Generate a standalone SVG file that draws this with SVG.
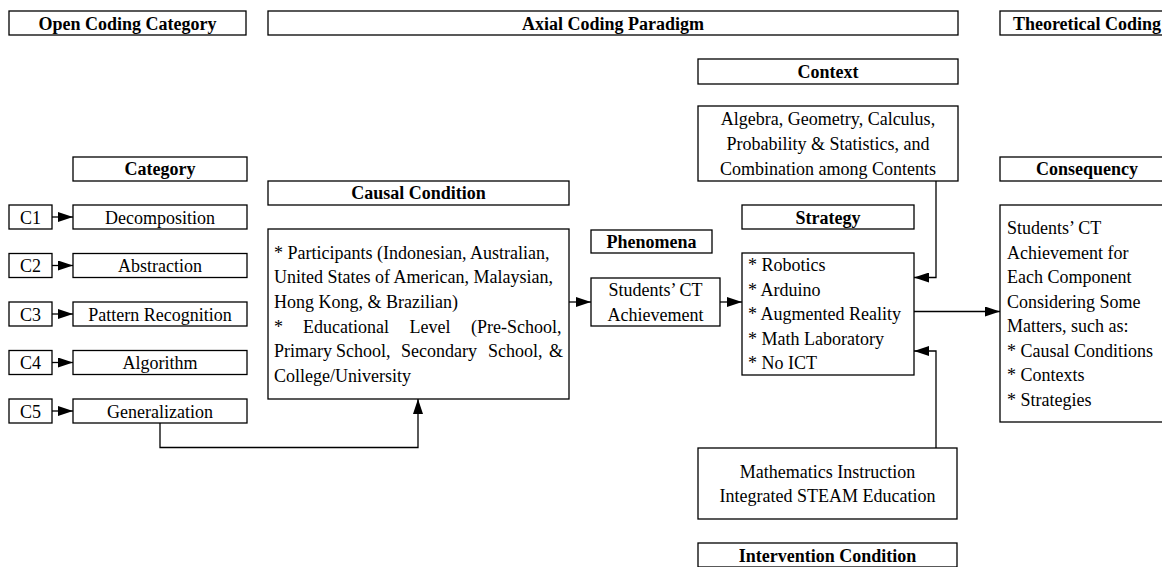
<svg xmlns="http://www.w3.org/2000/svg" width="1162" height="567" viewBox="0 0 1162 567">
  <defs>
    <style>
      .box { fill: #ffffff; stroke: #000000; stroke-width: 1.3; }
      .wire { fill: none; stroke: #000000; stroke-width: 1.3; }
      text { font-family: "Liberation Serif", "Times New Roman", serif; font-size: 18px; fill: #000000; }
      .head { font-weight: bold; text-anchor: middle; }
      .mid { text-anchor: middle; }
    </style>
    <marker id="arrow" markerUnits="userSpaceOnUse" markerWidth="15" markerHeight="10" refX="15" refY="5" orient="auto">
      <path d="M0,0 L15,5 L0,10 z" fill="#000000"/>
    </marker>
  </defs>

  <rect width="1162" height="567" fill="#ffffff"/>

  <!-- column titles -->
  <g id="title-open">
    <rect class="box" x="9" y="11" width="237" height="24"/>
    <text class="head" x="127.5" y="29.5">Open Coding Category</text>
  </g>
  <g id="title-axial">
    <rect class="box" x="268" y="11" width="690" height="24"/>
    <text class="head" x="613" y="29.5">Axial Coding Paradigm</text>
  </g>
  <g id="title-theoretical">
    <rect class="box" x="1000" y="11" width="174" height="24"/>
    <text class="head" x="1087" y="29.5">Theoretical Coding</text>
  </g>

  <!-- open coding categories -->
  <g id="category-head">
    <rect class="box" x="73" y="157" width="174" height="24"/>
    <text class="head" x="160" y="175">Category</text>
  </g>
  <g id="c1">
    <rect class="box" x="9" y="205" width="43" height="24"/>
    <text class="mid" x="30.5" y="223.5">C1</text>
  </g>
  <g id="decomposition">
    <rect class="box" x="73" y="205" width="174" height="24"/>
    <text class="mid" x="160" y="223.5">Decomposition</text>
  </g>
  <g id="c2">
    <rect class="box" x="9" y="253.5" width="43" height="24"/>
    <text class="mid" x="30.5" y="272">C2</text>
  </g>
  <g id="abstraction">
    <rect class="box" x="73" y="253.5" width="174" height="24"/>
    <text class="mid" x="160" y="272">Abstraction</text>
  </g>
  <g id="c3">
    <rect class="box" x="9" y="302" width="43" height="24"/>
    <text class="mid" x="30.5" y="320.5">C3</text>
  </g>
  <g id="pattern">
    <rect class="box" x="73" y="302" width="174" height="24"/>
    <text class="mid" x="160" y="320.5">Pattern Recognition</text>
  </g>
  <g id="c4">
    <rect class="box" x="9" y="350.5" width="43" height="24"/>
    <text class="mid" x="30.5" y="369">C4</text>
  </g>
  <g id="algorithm">
    <rect class="box" x="73" y="350.5" width="174" height="24"/>
    <text class="mid" x="160" y="369">Algorithm</text>
  </g>
  <g id="c5">
    <rect class="box" x="9" y="399" width="43" height="24"/>
    <text class="mid" x="30.5" y="417.5">C5</text>
  </g>
  <g id="generalization">
    <rect class="box" x="73" y="399" width="174" height="24"/>
    <text class="mid" x="160" y="417.5">Generalization</text>
  </g>

  <!-- causal condition -->
  <g id="causal-head">
    <rect class="box" x="268" y="181" width="301" height="24"/>
    <text class="head" x="418.5" y="199">Causal Condition</text>
  </g>
  <g id="causal">
    <rect class="box" x="268" y="229" width="301" height="170"/>
    <text x="274" y="258.5">* Participants (Indonesian, Australian,</text>
    <text x="274" y="283">United States of American, Malaysian,</text>
    <text x="274" y="307.5">Hong Kong, &amp; Brazilian)</text>
    <text y="332.5"><tspan x="274">*</tspan><tspan x="303">Educational</tspan><tspan x="409.5">Level</tspan><tspan x="471">(Pre-School,</tspan></text>
    <text y="357"><tspan x="274">Primary</tspan><tspan x="336">School,</tspan><tspan x="401">Secondary</tspan><tspan x="488">School,</tspan><tspan x="549">&amp;</tspan></text>
    <text x="274" y="381.5">College/University</text>
  </g>

  <!-- phenomena -->
  <g id="phenomena-head">
    <rect class="box" x="591" y="230" width="121" height="23"/>
    <text class="head" x="651.5" y="247.5">Phenomena</text>
  </g>
  <g id="phenomena">
    <rect class="box" x="591" y="278" width="129" height="48"/>
    <text class="mid" x="655.5" y="296">Students’ CT</text>
    <text class="mid" x="655.5" y="320.5">Achievement</text>
  </g>

  <!-- context -->
  <g id="context-head">
    <rect class="box" x="698" y="59" width="260" height="25"/>
    <text class="head" x="828" y="77.5">Context</text>
  </g>
  <g id="context">
    <rect class="box" x="698" y="106" width="260" height="75"/>
    <text class="mid" x="828" y="125">Algebra, Geometry, Calculus,</text>
    <text class="mid" x="828" y="150">Probability &amp; Statistics, and</text>
    <text class="mid" x="828" y="175">Combination among Contents</text>
  </g>

  <!-- strategy -->
  <g id="strategy-head">
    <rect class="box" x="742" y="205" width="172" height="24"/>
    <text class="head" x="828" y="223.5">Strategy</text>
  </g>
  <g id="strategy">
    <rect class="box" x="742" y="253" width="172" height="122"/>
    <text x="748" y="271">* Robotics</text>
    <text x="748" y="295.5">* Arduino</text>
    <text x="748" y="320">* Augmented Reality</text>
    <text x="748" y="344.5">* Math Laboratory</text>
    <text x="748" y="369">* No ICT</text>
  </g>

  <!-- intervention condition -->
  <g id="intervention">
    <rect class="box" x="698" y="448" width="259" height="71"/>
    <text class="mid" x="827.5" y="478">Mathematics Instruction</text>
    <text class="mid" x="827.5" y="502">Integrated STEAM Education</text>
  </g>
  <g id="intervention-head">
    <rect class="box" x="698" y="543" width="259" height="24"/>
    <text class="head" x="827.5" y="561.5">Intervention Condition</text>
  </g>

  <!-- consequence -->
  <g id="consequency-head">
    <rect class="box" x="1000" y="157" width="174" height="24"/>
    <text class="head" x="1087" y="175">Consequency</text>
  </g>
  <g id="consequency">
    <rect class="box" x="1000" y="205" width="174" height="217"/>
    <text x="1007" y="234">Students’ CT</text>
    <text x="1007" y="258.5">Achievement for</text>
    <text x="1007" y="283">Each Component</text>
    <text x="1007" y="307.5">Considering Some</text>
    <text x="1007" y="332">Matters, such as:</text>
    <text x="1007" y="356.5">* Causal Conditions</text>
    <text x="1007" y="381">* Contexts</text>
    <text x="1007" y="405.5">* Strategies</text>
  </g>

  <!-- connectors -->
  <g id="connectors" class="wire">
    <path class="wire" d="M52,217 H73" marker-end="url(#arrow)"/>
    <path class="wire" d="M52,265.5 H73" marker-end="url(#arrow)"/>
    <path class="wire" d="M52,314 H73" marker-end="url(#arrow)"/>
    <path class="wire" d="M52,362.5 H73" marker-end="url(#arrow)"/>
    <path class="wire" d="M52,411 H73" marker-end="url(#arrow)"/>
    <path class="wire" d="M160,423 V447.5 H418 V399" marker-end="url(#arrow)"/>
    <path class="wire" d="M569,302 H591" marker-end="url(#arrow)"/>
    <path class="wire" d="M720,302 H742" marker-end="url(#arrow)"/>
    <path class="wire" d="M936,181 V277.5 H914" marker-end="url(#arrow)"/>
    <path class="wire" d="M936,448 V351 H914" marker-end="url(#arrow)"/>
    <path class="wire" d="M914,311.5 H1000" marker-end="url(#arrow)"/>
  </g>
</svg>
